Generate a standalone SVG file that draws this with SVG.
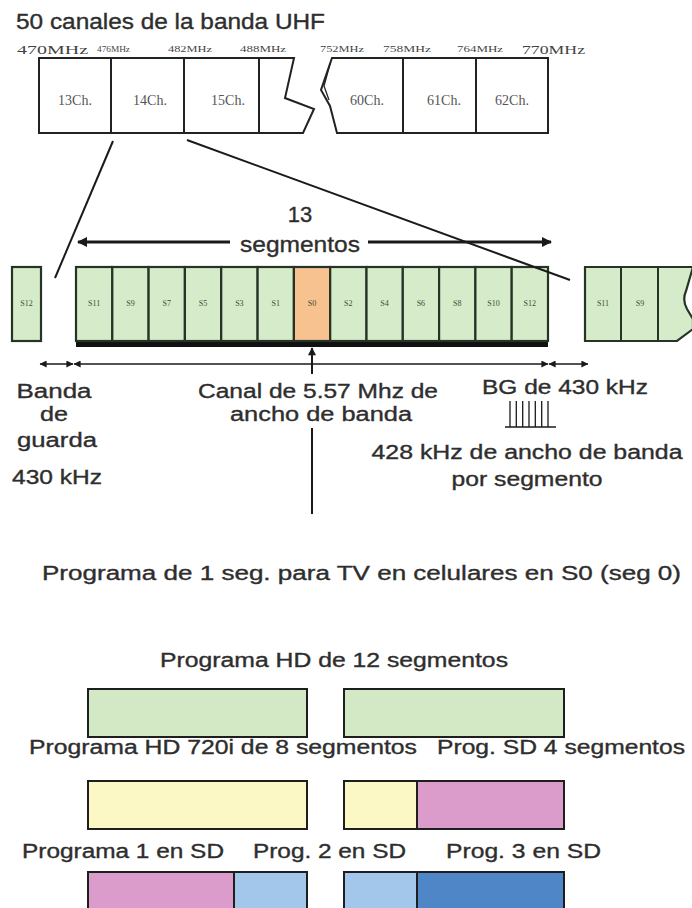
<svg xmlns="http://www.w3.org/2000/svg" width="692" height="908" viewBox="0 0 692 908">
<style>
.sans{font-family:"Liberation Sans",Arial,sans-serif;fill:#2e2e2e;stroke:#2e2e2e;stroke-width:0.35}
.serif{font-family:"Liberation Serif","Times New Roman",serif;fill:#555}
.box{fill:#fff;stroke:#222;stroke-width:2}
.div{stroke:#222;stroke-width:2}
.seg{fill:#d6ebc9;stroke:#263326;stroke-width:2.2}
.s0{fill:#f8c190;stroke:#263326;stroke-width:2.2}
.sl{font-family:"Liberation Serif","Times New Roman",serif;font-size:8px;fill:#3d4d35;text-anchor:middle}
.prog{stroke:#1e1e1e;stroke-width:2}
.ln{stroke:#1a1a1a;fill:none}
</style>
<defs>
<marker id="big" viewBox="0 0 10 10" refX="9" refY="5" markerWidth="13" markerHeight="10" markerUnits="userSpaceOnUse" orient="auto-start-reverse"><path d="M0,0 L10,5 L0,10 z" fill="#1a1a1a"/></marker>
<marker id="sm" viewBox="0 0 10 10" refX="9.5" refY="5" markerWidth="8" markerHeight="7" markerUnits="userSpaceOnUse" orient="auto-start-reverse"><path d="M0,0 L10,5 L0,10 z" fill="#1a1a1a"/></marker>
<marker id="vt" viewBox="0 0 10 10" refX="9" refY="5" markerWidth="9" markerHeight="8" markerUnits="userSpaceOnUse" orient="auto"><path d="M0,0 L10,5 L0,10 z" fill="#1a1a1a"/></marker>
</defs>
<rect width="692" height="908" fill="#fff"/>

<g id="title">
<text class="sans" x="16" y="29" font-size="22" textLength="309" lengthAdjust="spacingAndGlyphs">50 canales de la banda UHF</text>
</g>

<g id="freq-labels" class="serif" style="fill:#444">
<text x="17" y="54" font-size="13" textLength="71" lengthAdjust="spacingAndGlyphs">470MHz</text>
<text x="97" y="52" font-size="8" textLength="33" lengthAdjust="spacingAndGlyphs">476MHz</text>
<text x="168" y="52" font-size="8" textLength="44" lengthAdjust="spacingAndGlyphs">482MHz</text>
<text x="240" y="52" font-size="8" textLength="46" lengthAdjust="spacingAndGlyphs">488MHz</text>
<text x="320" y="52" font-size="8" textLength="44" lengthAdjust="spacingAndGlyphs">752MHz</text>
<text x="383" y="52" font-size="8" textLength="48" lengthAdjust="spacingAndGlyphs">758MHz</text>
<text x="457" y="52" font-size="8" textLength="46" lengthAdjust="spacingAndGlyphs">764MHz</text>
<text x="522" y="54" font-size="13" textLength="63" lengthAdjust="spacingAndGlyphs">770MHz</text>
</g>

<g id="uhf-band-left">
<path class="box" d="M39,58 H294 L285,98 L314,109 L303,133 H39 Z"/>
<line class="div" x1="111" y1="58" x2="111" y2="133"/>
<line class="div" x1="184" y1="58" x2="184" y2="133"/>
<line class="div" x1="259" y1="58" x2="259" y2="133"/>
<g class="serif" font-size="14" text-anchor="middle">
<text x="75" y="105">13Ch.</text>
<text x="150" y="105">14Ch.</text>
<text x="228" y="105">15Ch.</text>
</g>
</g>

<g id="uhf-band-right">
<path class="box" d="M332,58 H548 V133 H337 L330,106 L321,90 Z"/>
<path d="M330,64 L324,86 L329,100" fill="none" stroke="#222" stroke-width="1.3"/>
<line class="div" x1="403" y1="58" x2="403" y2="133"/>
<line class="div" x1="476" y1="58" x2="476" y2="133"/>
<g class="serif" font-size="14" text-anchor="middle">
<text x="367" y="105">60Ch.</text>
<text x="444" y="105">61Ch.</text>
<text x="512" y="105">62Ch.</text>
</g>
</g>

<g id="segments-label">
<text class="sans" x="300" y="222" font-size="22" text-anchor="middle">13</text>
<text class="sans" x="240" y="252" font-size="22" textLength="120" lengthAdjust="spacingAndGlyphs">segmentos</text>
</g>

<g id="prev-channel">
<rect class="seg" x="12" y="267" width="29" height="74"/>
<text class="sl" x="26.5" y="306">S12</text>
</g>

<g id="segment-bar">
<rect x="76" y="340" width="472" height="7" fill="#111"/>
<rect class="seg" x="76" y="267" width="36.3" height="74"/>
<rect class="seg" x="112.3" y="267" width="36.3" height="74"/>
<rect class="seg" x="148.6" y="267" width="36.3" height="74"/>
<rect class="seg" x="184.9" y="267" width="36.3" height="74"/>
<rect class="seg" x="221.2" y="267" width="36.4" height="74"/>
<rect class="seg" x="257.6" y="267" width="36.3" height="74"/>
<rect class="s0" x="293.9" y="267" width="36.3" height="74"/>
<rect class="seg" x="330.2" y="267" width="36.3" height="74"/>
<rect class="seg" x="366.5" y="267" width="36.3" height="74"/>
<rect class="seg" x="402.8" y="267" width="36.3" height="74"/>
<rect class="seg" x="439.1" y="267" width="36.3" height="74"/>
<rect class="seg" x="475.4" y="267" width="36.3" height="74"/>
<rect class="seg" x="511.7" y="267" width="36.3" height="74"/>
<text class="sl" x="94.2" y="306">S11</text>
<text class="sl" x="130.5" y="306">S9</text>
<text class="sl" x="166.8" y="306">S7</text>
<text class="sl" x="203.1" y="306">S5</text>
<text class="sl" x="239.4" y="306">S3</text>
<text class="sl" x="275.7" y="306">S1</text>
<text class="sl" x="312" y="306">S0</text>
<text class="sl" x="348.3" y="306">S2</text>
<text class="sl" x="384.6" y="306">S4</text>
<text class="sl" x="420.9" y="306">S6</text>
<text class="sl" x="457.2" y="306">S8</text>
<text class="sl" x="493.5" y="306">S10</text>
<text class="sl" x="529.8" y="306">S12</text>
</g>

<g id="next-channel">
<path class="seg" d="M585,267 H693 L686,291 Q682,300 687,309 L693,319 V329 L677,341 H585 Z"/>
<line class="div" x1="621" y1="267" x2="621" y2="341" style="stroke:#263326"/>
<line class="div" x1="658" y1="267" x2="658" y2="341" style="stroke:#263326"/>
<text class="sl" x="603" y="306">S11</text>
<text class="sl" x="640" y="306">S9</text>
</g>

<g id="connectors">
<line class="ln" x1="113" y1="141" x2="55" y2="278" stroke-width="2"/>
<line class="ln" x1="187" y1="140" x2="570" y2="280" stroke-width="2"/>
<line class="ln" x1="78" y1="242" x2="230" y2="242" stroke-width="3" marker-start="url(#big)"/>
<line class="ln" x1="368" y1="242" x2="551" y2="242" stroke-width="3" marker-end="url(#big)"/>
<line class="ln" x1="40" y1="364" x2="73" y2="364" stroke-width="1.5" marker-start="url(#sm)" marker-end="url(#sm)"/>
<line class="ln" x1="74" y1="364" x2="548" y2="364" stroke-width="1.5" marker-start="url(#sm)" marker-end="url(#sm)"/>
<line class="ln" x1="549" y1="364" x2="588" y2="364" stroke-width="1.5" marker-start="url(#sm)" marker-end="url(#sm)"/>
<line class="ln" x1="312" y1="514" x2="312" y2="428" stroke-width="2"/>
<line class="ln" x1="312" y1="374" x2="312" y2="348" stroke-width="2" marker-end="url(#vt)"/>
</g>

<g id="band-labels">
<g class="sans" font-size="20" text-anchor="middle">
<text x="54" y="398" textLength="75" lengthAdjust="spacingAndGlyphs">Banda</text>
<text x="54" y="421" textLength="28" lengthAdjust="spacingAndGlyphs">de</text>
<text x="57" y="447" textLength="80" lengthAdjust="spacingAndGlyphs">guarda</text>
<text x="57" y="484" textLength="90" lengthAdjust="spacingAndGlyphs">430 kHz</text>
<text x="318" y="398" textLength="240" lengthAdjust="spacingAndGlyphs">Canal de 5.57 Mhz de</text>
<text x="321" y="421" textLength="182" lengthAdjust="spacingAndGlyphs">ancho de banda</text>
<text x="565" y="394" textLength="166" lengthAdjust="spacingAndGlyphs">BG de 430 kHz</text>
<text x="527" y="459" textLength="311" lengthAdjust="spacingAndGlyphs">428 kHz de ancho de banda</text>
<text x="527" y="486" textLength="151" lengthAdjust="spacingAndGlyphs">por segmento</text>
</g>
<g stroke="#1a1a1a" stroke-width="1.3">
<line x1="505" y1="427" x2="556" y2="427"/>
<line x1="510" y1="401" x2="510" y2="427"/>
<line x1="516.3" y1="401" x2="516.3" y2="427"/>
<line x1="522.7" y1="401" x2="522.7" y2="427"/>
<line x1="529" y1="401" x2="529" y2="427"/>
<line x1="535.3" y1="401" x2="535.3" y2="427"/>
<line x1="541.7" y1="401" x2="541.7" y2="427"/>
<line x1="548" y1="401" x2="548" y2="427"/>
</g>
</g>

<g id="oneseg-label">
<text class="sans" x="42" y="580" font-size="20" textLength="639" lengthAdjust="spacingAndGlyphs">Programa de 1 seg. para TV en celulares en S0 (seg 0)</text>
</g>

<g id="hd12">
<text class="sans" x="160" y="667" font-size="20" textLength="348" lengthAdjust="spacingAndGlyphs">Programa HD de 12 segmentos</text>
<rect class="prog" x="88" y="689" width="219" height="48" fill="#d3e9c6"/>
<rect class="prog" x="344" y="689" width="220" height="48" fill="#d3e9c6"/>
</g>

<g id="hd8-sd4">
<text class="sans" x="29" y="754" font-size="20" textLength="388" lengthAdjust="spacingAndGlyphs">Programa HD 720i de 8 segmentos</text>
<text class="sans" x="437" y="754" font-size="20" textLength="248" lengthAdjust="spacingAndGlyphs">Prog. SD 4 segmentos</text>
<rect class="prog" x="88" y="781" width="219" height="48" fill="#fbf8c6"/>
<rect class="prog" x="344" y="781" width="73" height="48" fill="#fbf8c6"/>
<rect class="prog" x="417" y="781" width="147" height="48" fill="#dc9ccb"/>
</g>

<g id="sd3">
<text class="sans" x="22" y="858" font-size="20" textLength="202" lengthAdjust="spacingAndGlyphs">Programa 1 en SD</text>
<text class="sans" x="253" y="858" font-size="20" textLength="153" lengthAdjust="spacingAndGlyphs">Prog. 2 en SD</text>
<text class="sans" x="446" y="858" font-size="20" textLength="155" lengthAdjust="spacingAndGlyphs">Prog. 3 en SD</text>
<rect class="prog" x="88" y="872" width="146" height="48" fill="#dc9ccb"/>
<rect class="prog" x="234" y="872" width="73" height="48" fill="#a2c7ea"/>
<rect class="prog" x="344" y="872" width="73" height="48" fill="#a2c7ea"/>
<rect class="prog" x="417" y="872" width="147" height="48" fill="#4f86c8"/>
</g>
</svg>
